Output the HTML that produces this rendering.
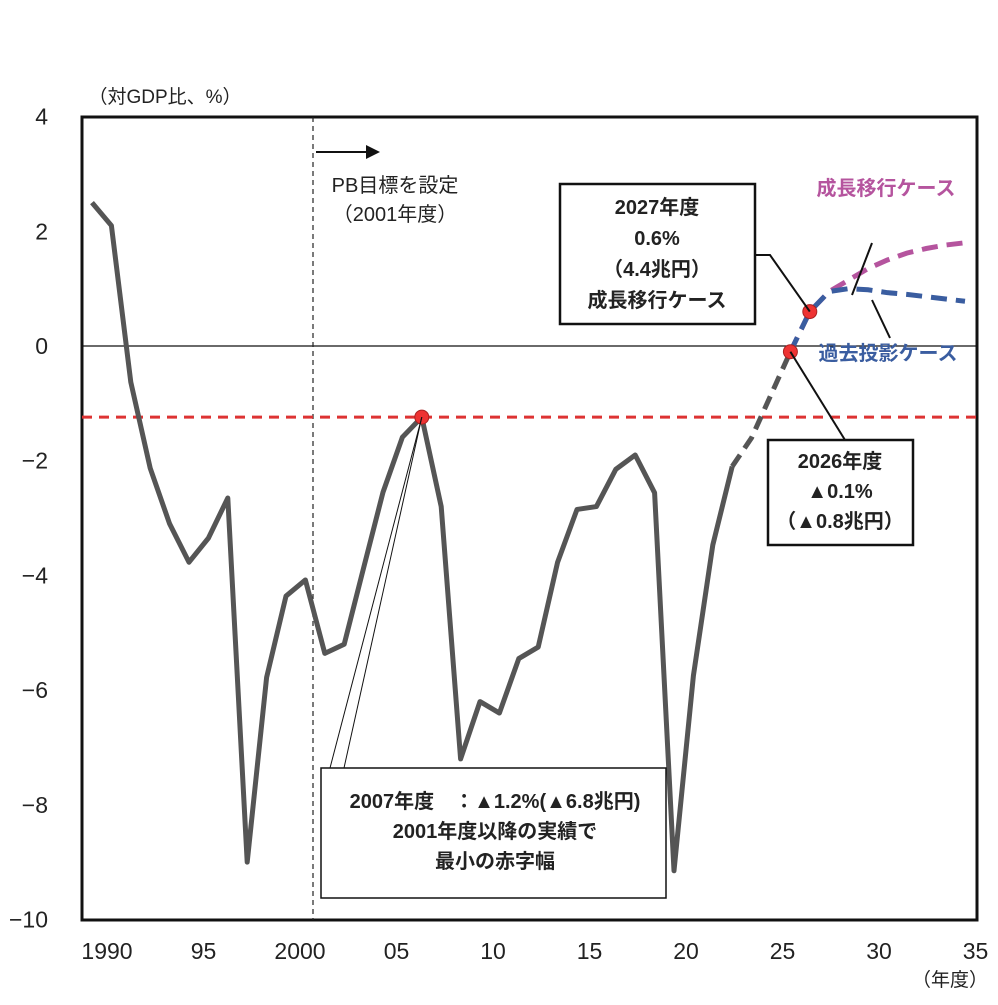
<!DOCTYPE html>
<html><head><meta charset="utf-8"><style>
body{margin:0;background:#fff;}
svg text{font-family:"Liberation Sans","Noto Sans CJK JP",sans-serif;}
</style></head><body>
<svg id="c" width="998" height="1000" viewBox="0 0 998 1000" xmlns="http://www.w3.org/2000/svg"></svg>
<script>
const years=[1990,1991,1992,1993,1994,1995,1996,1997,1998,1999,2000,2001,2002,2003,2004,2005,2006,2007,2008,2009,2010,2011,2012,2013,2014,2015,2016,2017,2018,2019,2020,2021,2022,2023];
const actual=[2.5,2.1,-0.63,-2.13,-3.1,-3.77,-3.35,-2.65,-9.0,-5.78,-4.36,-4.08,-5.36,-5.2,-3.87,-2.55,-1.59,-1.24,-2.8,-7.2,-6.2,-6.4,-5.45,-5.25,-3.77,-2.85,-2.8,-2.15,-1.9,-2.56,-9.15,-5.75,-3.47,-2.1];
const estYears=[2023,2024,2025,2026];
const estValues=[-2.1,-1.6,-0.85,-0.1];
const projYears=[2026,2027,2028,2029,2030,2031,2032,2033,2034,2035];
const pastCase=[-0.1,0.6,0.95,1.0,0.98,0.93,0.9,0.86,0.82,0.78];
const growthCase=[-0.1,0.6,0.95,1.15,1.35,1.5,1.62,1.7,1.76,1.8];
const yTicks=[4,2,0,-2,-4,-6,-8,-10];
const xTickYears=[1990,1995,2000,2005,2010,2015,2020,2025,2030,2035];
const xTickLabels=["1990","95","2000","05","10","15","20","25","30","35"];
const target=-1.24;

const NS="http://www.w3.org/2000/svg",svg=document.getElementById('c');
const X=y=>92+(y-1990)*19.4, Y=v=>346-v*57.35;
const XL=y=>107+(y-1990)*19.3;
function el(t,a,name,p){const e=document.createElementNS(NS,t);for(const k in a)e.setAttribute(k,a[k]);


(p||svg).appendChild(e);return e;}
function txt(x,y,s,name,o){const e=el('text',Object.assign({x:x,y:y,'font-size':20,fill:'#222','text-anchor':'middle'},o||{}),name);e.textContent=s;return e;}
function path(xs,vs,name,o){let d=xs.map((y,i)=>(i?'L':'M')+X(y)+' '+Y(vs[i])).join(' ');return el('path',Object.assign({d:d,fill:'none'},o),name);}

el('rect',{x:82,y:117,width:895,height:803,fill:'none',stroke:'#111','stroke-width':3},'plot-frame');
el('line',{x1:82,x2:977,y1:Y(0),y2:Y(0),stroke:'#111','stroke-width':1.2},'zero-line');
yTicks.forEach(v=>txt(48,Y(v)+8,v<0?'−'+(-v):String(v),'y-tick-label',{'text-anchor':'end','font-size':23}));
xTickYears.forEach((y,i)=>txt(XL(y),959,xTickLabels[i],'x-tick-label',{'font-size':23}));
txt(950,986,'（年度）','x-axis-unit',{'font-size':19});
txt(165,103,'（対GDP比、%）','y-axis-unit',{'font-size':19});
el('line',{x1:313,x2:313,y1:117,y2:920,stroke:'#222','stroke-width':1.2,'stroke-dasharray':'5,4'},'pb-target-line');
el('line',{x1:316,x2:368,y1:152,y2:152,stroke:'#111','stroke-width':2},'arrow-line');
el('path',{d:'M366 145 L380 152 L366 159Z',fill:'#111'},'arrow-head');
txt(395,192,'PB目標を設定','pb-label-1');
txt(395,221,'（2001年度）','pb-label-2');
el('line',{x1:82,x2:977,y1:Y(target),y2:Y(target),stroke:'#d33','stroke-width':3,'stroke-dasharray':'10,7'},'target-line');
path(years,actual,'actual-line',{stroke:'#555','stroke-width':5,'stroke-linejoin':'round'});
path(estYears,estValues,'estimate-line',{stroke:'#555','stroke-width':5,'stroke-dasharray':'14,8'});
path(projYears,growthCase,'growth-case-line',{stroke:'#b5549e','stroke-width':5,'stroke-dasharray':'16,9'});
path(projYears,pastCase,'past-case-line',{stroke:'#3a5da0','stroke-width':5,'stroke-dasharray':'16,9'});
el('circle',{cx:X(2007),cy:Y(-1.24),r:7,fill:'#e33',stroke:'#a22'},'point-2007');
el('circle',{cx:X(2026),cy:Y(-0.1),r:7,fill:'#e33',stroke:'#a22'},'point-2026');
el('circle',{cx:X(2027),cy:Y(0.6),r:7,fill:'#e33',stroke:'#a22'},'point-2027');
el('line',{x1:X(2007),y1:Y(-1.24),x2:330,y2:768,stroke:'#111','stroke-width':1},'callout-2007a');
el('line',{x1:X(2007),y1:Y(-1.24),x2:344,y2:768,stroke:'#111','stroke-width':1},'callout-2007b');
el('path',{d:`M755 255 L770 255 L${X(2027)} ${Y(0.6)}`,fill:'none',stroke:'#111','stroke-width':2},'callout-2027');
el('line',{x1:X(2026),y1:Y(-0.1),x2:845,y2:440,stroke:'#111','stroke-width':2},'callout-2026');
el('line',{x1:872,y1:243,x2:852,y2:295,stroke:'#111','stroke-width':2},'callout-growth');
el('line',{x1:872,y1:300,x2:890,y2:338,stroke:'#111','stroke-width':2},'callout-past');
el('rect',{x:321,y:768,width:345,height:130,fill:'#fff',stroke:'#111','stroke-width':1.5},'box-2007');
txt(495,808,'2007年度　：▲1.2%(▲6.8兆円)','box-2007-line1',{'font-weight':'bold'});
txt(495,838,'2001年度以降の実績で','box-2007-line2',{'font-weight':'bold'});
txt(495,868,'最小の赤字幅','box-2007-line3',{'font-weight':'bold'});
el('rect',{x:560,y:184,width:195,height:140,fill:'#fff',stroke:'#111','stroke-width':2.5},'box-2027');
['2027年度','0.6%','（4.4兆円）','成長移行ケース'].forEach((s,i)=>txt(657,214+i*31,s,'box-2027-line',{'font-weight':'bold'}));
el('rect',{x:768,y:440,width:145,height:105,fill:'#fff',stroke:'#111','stroke-width':2.5},'box-2026');
['2026年度','▲0.1%','（▲0.8兆円）'].forEach((s,i)=>txt(840,468+i*30,s,'box-2026-line',{'font-weight':'bold'}));
txt(886,195,'成長移行ケース','growth-case-label',{fill:'#b5549e','font-weight':'bold'});
txt(888,360,'過去投影ケース','past-case-label',{fill:'#3a5da0','font-weight':'bold'});
</script></body></html>
